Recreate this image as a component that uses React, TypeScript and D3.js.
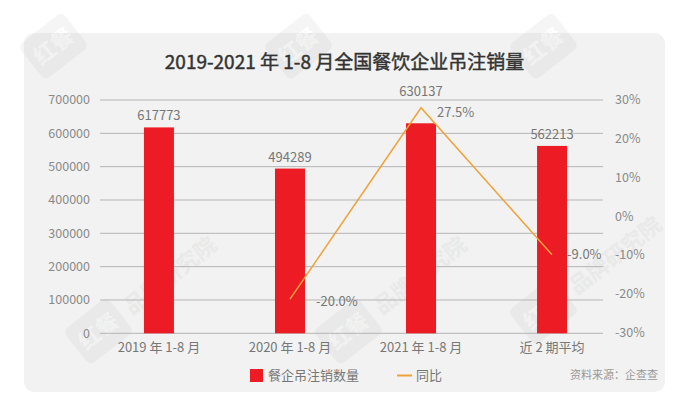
import React from "react";
import * as d3 from "d3";

const categories = ["2019 年 1-8 月", "2020 年 1-8 月", "2021 年 1-8 月", "近 2 期平均"];
const cancelCounts = [617773, 494289, 630137, 562213];
const yoyCategories = ["2020 年 1-8 月", "2021 年 1-8 月", "近 2 期平均"];
const yoyValues = [-20.0, 27.5, -9.0];
const leftTicks = [0, 100000, 200000, 300000, 400000, 500000, 600000, 700000];
const rightTicks = [-30, -20, -10, 0, 10, 20, 30];

const W = 691;
const H = 414;
const FONT = "'Noto Sans CJK SC', 'Noto Sans', sans-serif";
const RED = "#ED1C24";
const ORANGE = "#F0A238";
const AXIS_TXT = "#8a8a8a";

// label nudges (positions, not data)
const barLabelLift = [7, 7, 27, 7];
const pctLabelDx = [26, 16, 15];
const pctLabelDy = [2, 5, 0];

export default function App() {
  const x = d3.scaleBand<string>().domain(categories).range([93.5, 617.5]).paddingInner(0.771).paddingOuter(0.385);
  const yL = d3.scaleLinear().domain([0, 700000]).range([333.3, 100]);
  const yRLabels = d3.scaleLinear().domain([-30, 30]).range([332.3, 100]);
  const yRLine = d3.scaleLinear().domain([-30, 30]).range([339.5, 97.7]);
  const cx = (c: string) => (x(c) as number) + x.bandwidth() / 2;
  const line = d3
    .line<number>()
    .x((_, i) => cx(yoyCategories[i]))
    .y((v) => yRLine(v));

  const topMarks = [[55, 45], [300, 45], [545, 45]];
  const bottomMarks = [[100, 330], [350, 330], [545, 310]];

  return (
    <svg width={W} height={H} style={{ position: "absolute", left: 0, top: 0, background: "#fff" }} fontFamily={FONT}>
      <rect x={24} y={33} width={641} height={359} rx={10} fill="#f1f2f1" />
      {topMarks.map(([wx, wy], i) => (
        <g key={"t" + i} transform={`translate(${wx},${wy}) rotate(-38)`} opacity={0.05}>
          <rect x={-30} y={-22} width={56} height={44} rx={6} fill="#555" />
          <text x={-2} y={8} textAnchor="middle" fontSize={22} fontWeight="bold" fill="#fff">红餐</text>
        </g>
      ))}
      {bottomMarks.map(([wx, wy], i) => (
        <g key={"b" + i} transform={`translate(${wx},${wy}) rotate(-38)`} opacity={0.05}>
          <rect x={-30} y={-22} width={56} height={44} rx={6} fill="#555" />
          <text x={-2} y={8} textAnchor="middle" fontSize={22} fontWeight="bold" fill="#fff">红餐</text>
          <text x={34} y={8} fontSize={22} fontWeight="bold" fill="#555">品牌研究院</text>
        </g>
      ))}
      <text x={344.5} y={69} textAnchor="middle" fontSize={19} fontWeight={400} fill="#333" stroke="#333" strokeWidth={0.45}>
        2019-2021 年 1-8 月全国餐饮企业吊注销量
      </text>
      {leftTicks.map((t) => (
        <g key={t}>
          <line x1={100} x2={603} y1={yL(t)} y2={yL(t)} stroke="#b5b5b5" strokeWidth={1} />
          <text x={90} y={yL(t)} dy="0.35em" textAnchor="end" fontSize={12.5} fill={AXIS_TXT}>{t}</text>
        </g>
      ))}
      {rightTicks.map((t) => (
        <text key={t} x={615} y={yRLabels(t)} dy="0.35em" fontSize={12.5} fill={AXIS_TXT}>{`${t}%`}</text>
      ))}
      {categories.map((c, i) => (
        <g key={c}>
          <rect x={x(c)} y={yL(cancelCounts[i])} width={x.bandwidth()} height={yL(0) - yL(cancelCounts[i])} fill={RED} />
          <text x={cx(c)} y={yL(cancelCounts[i]) - barLabelLift[i]} textAnchor="middle" fontSize={13} fill="#777">
            {cancelCounts[i]}
          </text>
          <text x={cx(c)} y={352} textAnchor="middle" fontSize={13} fill="#777">{c}</text>
        </g>
      ))}
      <path d={line(yoyValues) || ""} fill="none" stroke={ORANGE} strokeWidth={1.5} />
      {yoyValues.map((v, i) => (
        <text key={i} x={cx(yoyCategories[i]) + pctLabelDx[i]} y={yRLine(v) + pctLabelDy[i]} dy="0.35em" fontSize={13} fill="#777">
          {`${v.toFixed(1)}%`}
        </text>
      ))}
      <rect x={250} y={369} width={13} height={13} fill={RED} />
      <text x={268} y={375.5} dy="0.35em" fontSize={13} fill="#777">餐企吊注销数量</text>
      <line x1={397} x2={412} y1={375.5} y2={375.5} stroke={ORANGE} strokeWidth={2} />
      <text x={416} y={375.5} dy="0.35em" fontSize={13} fill="#777">同比</text>
      <text x={658} y={375.5} dy="0.35em" textAnchor="end" fontSize={11} fill="#999">资料来源：企查查</text>
    </svg>
  );
}
